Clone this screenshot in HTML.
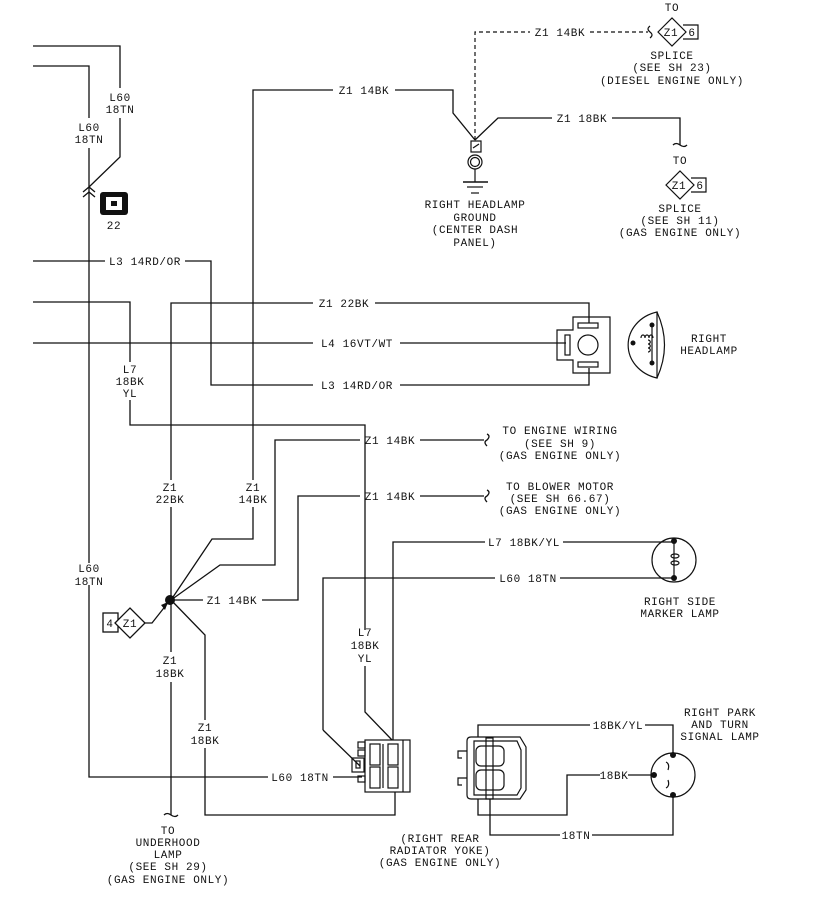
<!DOCTYPE html>
<html><head><meta charset="utf-8"><style>
html,body{margin:0;padding:0;background:#fff;}
svg{display:block;}
text{font-family:"Liberation Mono",monospace;font-size:11px;fill:#111;letter-spacing:0.6px;}
</style></head><body>
<svg width="840" height="897" viewBox="0 0 840 897" xmlns="http://www.w3.org/2000/svg">
<g stroke="#111" stroke-width="1.3" fill="none">
<!-- L60 top wires -->
<polyline points="33,46 120,46 120,88"/>
<polyline points="120,118 120,157 89,187"/>
<polyline points="33,66 89,66 89,118"/>
<polyline points="89,148 89,563"/>
<polyline points="89,585 89,777 268,777"/>
<polyline points="333,777 362,777"/>
<polyline points="83,192 89,187 95,192"/>
<polyline points="83,197 89,192 95,197"/>
<!-- L3 -->
<polyline points="33,261 105,261"/>
<polyline points="185,261 211,261 211,385 313,385"/>
<polyline points="400,385 589,385 589,368"/>
<!-- L7 from left -->
<polyline points="33,302 130,302 130,362"/>
<polyline points="130,400 130,425 365,425 365,630"/>
<polyline points="365,666 365,712 392,740"/>
<!-- Z1 22BK -->
<polyline points="313,303 171,303 171,480"/>
<polyline points="171,507 171,600"/>
<polyline points="375,303 589,303 589,323"/>
<!-- L4 -->
<polyline points="33,343 313,343"/>
<polyline points="400,343 566,343"/>
<!-- Z1 14BK top -->
<polyline points="333,90 253,90 253,480"/>
<polyline points="253,507 253,539 212,539 171,600"/>
<polyline points="395,90 453,90 453,113 475,140"/>
<!-- Z1 18BK to gas splice -->
<polyline points="475,140 498,118 552,118"/>
<polyline points="612,118 680,118 680,145"/>
<!-- engine wiring -->
<polyline points="171,600 220,565 275,565 275,440 360,440"/>
<polyline points="420,440 484,440"/>
<!-- blower -->
<polyline points="171,600 203,600"/>
<polyline points="262,600 298,600 298,496 360,496"/>
<polyline points="420,496 484,496"/>
<!-- down to underhood -->
<polyline points="171,600 171,652"/>
<polyline points="171,682 171,815"/>
<polyline points="171,600 205,635 205,720"/>
<polyline points="205,748 205,815 395,815 395,792"/>
<!-- L60 and L7 to marker -->
<polyline points="323,730 323,578 495,578"/>
<polyline points="560,578 674,578"/>
<polyline points="323,730 360,766"/>
<polyline points="393,740 393,542 485,542"/>
<polyline points="563,542 674,542"/>
<!-- park lamp wires -->
<polyline points="478,737 478,725 590,725"/>
<polyline points="645,725 673,725 673,755"/>
<polyline points="655,775 628,775"/>
<polyline points="600,775 567,775 567,815 478,815 478,799"/>
<polyline points="490,799 490,835 560,835"/>
<polyline points="592,835 673,835 673,795"/>
<!-- squiggles -->
<path d="M487,434 q4,2 0,6 q-4,2 0,6"/>
<path d="M487,490 q4,2 0,6 q-4,2 0,6"/>
<path d="M164,815 q3,-3 7,0 q4,3 7,0"/>
<path d="M673,145 q3,-3 7,0 q4,3 7,0"/>
<!-- 4 Z1 splice -->
<rect x="103" y="613" width="15" height="19"/>
<polygon points="115,623 130,608 145,623 130,638" fill="#fff"/>
<polyline points="145,623 152,623 167,604"/>
</g>
<polygon points="161,605 168,602 165,610" fill="#111"/>
<circle cx="170" cy="600" r="5" fill="#111"/>
<!-- dashed diesel -->
<g stroke="#111" stroke-width="1.2" fill="none" stroke-dasharray="4,3">
<polyline points="475,140 475,32 530,32"/>
<polyline points="590,32 648,32"/>
</g>
<g stroke="#111" stroke-width="1.2" fill="none">
<path d="M650,26 q-4,3 0,6 q4,3 0,6"/>
<polygon points="658,32 672,18 686,32 672,46"/>
<polyline points="683,25 698,25 698,39 683,39"/>
<polygon points="666,185 680,171 694,185 680,199"/>
<polyline points="691,178 706,178 706,192 691,192"/>
<!-- ground -->
<rect x="471" y="141" width="10" height="11"/>
<line x1="473" y1="148" x2="479" y2="144"/>
<circle cx="475" cy="162" r="7"/>
<circle cx="475" cy="162" r="4.5"/>
<line x1="475" y1="169" x2="475" y2="182"/>
<line x1="463" y1="182" x2="488" y2="182" stroke-width="1.5"/>
<line x1="467" y1="187" x2="483" y2="187"/>
<line x1="471" y1="193" x2="479" y2="193"/>
<!-- headlamp connector -->
<polygon points="573,317 610,317 610,373 573,373 573,360 557,360 557,330 573,330"/>
<rect x="578" y="323" width="20" height="5"/>
<rect x="578" y="362" width="20" height="5"/>
<rect x="565" y="335" width="5" height="20"/>
<circle cx="588" cy="345" r="10"/>
<!-- headlamp -->
<path d="M657,312 A38,34 0 0 0 657,378 Z"/>
<path d="M657,312 Q672,345 657,378"/>
<line x1="652" y1="325" x2="652" y2="363"/>
<path d="M641,338 c0,-4 4,-4 4,0 c0,-4 4,-4 4,0 c0,-4 4,-4 4,0"/>
<path d="M648,340 c3,0 3,4 0,4 c3,0 3,4 0,4 c3,0 3,4 0,4"/>
<!-- marker lamp -->
<circle cx="674" cy="560" r="22"/>
<line x1="674" y1="542" x2="674" y2="578"/>
<ellipse cx="675" cy="556" rx="4" ry="2"/>
<ellipse cx="675" cy="563" rx="4" ry="2"/>
<!-- park lamp -->
<circle cx="673" cy="775" r="22"/>
<path d="M666,762 q4,2 2,8"/>
<path d="M666,788 q4,-2 2,-8"/>
<!-- connector 1 -->
<rect x="365" y="740" width="45" height="52"/>
<line x1="403" y1="740" x2="403" y2="792"/>
<rect x="370" y="744" width="10" height="21"/>
<rect x="370" y="767" width="10" height="21"/>
<rect x="388" y="744" width="10" height="21"/>
<rect x="388" y="767" width="10" height="21"/>
<line x1="383" y1="744" x2="383" y2="788"/>
<rect x="358" y="742" width="7" height="6"/>
<rect x="358" y="750" width="7" height="6"/>
<rect x="352" y="758" width="12" height="14"/>
<rect x="356" y="761" width="4" height="7"/>
<rect x="358" y="776" width="7" height="6"/>
<!-- connector 2 -->
<path d="M471,737 H520 L526,747 V790 L520,799 H471 Q467,799 467,795 V741 Q467,737 471,737 Z"/>
<path d="M474,741 H517 L521,750 V788 L517,795 H474 Z"/>
<rect x="486" y="738" width="7" height="61"/>
<rect x="476" y="746" width="28" height="20" rx="5"/>
<rect x="476" y="770" width="28" height="20" rx="5"/>
<polyline points="467,751 458,751 458,758 462,758"/>
<polyline points="467,778 458,778 458,785 462,785"/>
</g>
<g fill="#111">
<circle cx="674" cy="541" r="3"/><circle cx="674" cy="578" r="3"/>
<circle cx="673" cy="755" r="3"/><circle cx="673" cy="795" r="3"/><circle cx="654" cy="775" r="3"/>
<circle cx="652" cy="325" r="2.5"/><circle cx="633" cy="343" r="2.5"/><circle cx="652" cy="363" r="2.5"/>
<rect x="100" y="192" width="28" height="23" rx="3"/>
</g>
<rect x="106" y="197" width="16" height="13" fill="#fff"/>
<rect x="111" y="201" width="6" height="5" fill="#111"/>
<g text-anchor="middle">
<text x="120" y="101">L60</text><text x="120" y="113">18TN</text>
<text x="89" y="131">L60</text><text x="89" y="143">18TN</text>
<text x="114" y="229">22</text>
<text x="145" y="265">L3 14RD/OR</text>
<text x="130" y="373">L7</text><text x="130" y="385">18BK</text><text x="130" y="397">YL</text>
<text x="364" y="94">Z1 14BK</text>
<text x="344" y="307">Z1 22BK</text>
<text x="357" y="347">L4 16VT/WT</text>
<text x="357" y="389">L3 14RD/OR</text>
<text x="390" y="444">Z1 14BK</text>
<text x="390" y="500">Z1 14BK</text>
<text x="560" y="434">TO ENGINE WIRING</text><text x="560" y="447">(SEE SH 9)</text><text x="560" y="459">(GAS ENGINE ONLY)</text>
<text x="560" y="490">TO BLOWER MOTOR</text><text x="560" y="502">(SEE SH 66.67)</text><text x="560" y="514">(GAS ENGINE ONLY)</text>
<text x="170" y="491">Z1</text><text x="170" y="503">22BK</text>
<text x="253" y="491">Z1</text><text x="253" y="503">14BK</text>
<text x="89" y="572">L60</text><text x="89" y="585">18TN</text>
<text x="232" y="604">Z1 14BK</text>
<text x="130" y="627">Z1</text><text x="110" y="627">4</text>
<text x="170" y="664">Z1</text><text x="170" y="677">18BK</text>
<text x="205" y="731">Z1</text><text x="205" y="744">18BK</text>
<text x="365" y="636">L7</text><text x="365" y="649">18BK</text><text x="365" y="662">YL</text>
<text x="300" y="781">L60 18TN</text>
<text x="168" y="834">TO</text><text x="168" y="846">UNDERHOOD</text><text x="168" y="858">LAMP</text><text x="168" y="870">(SEE SH 29)</text><text x="168" y="883">(GAS ENGINE ONLY)</text>
<text x="524" y="546">L7 18BK/YL</text>
<text x="528" y="582">L60 18TN</text>
<text x="680" y="605">RIGHT SIDE</text><text x="680" y="617">MARKER LAMP</text>
<text x="618" y="729">18BK/YL</text>
<text x="614" y="779">18BK</text>
<text x="576" y="839">18TN</text>
<text x="720" y="716">RIGHT PARK</text><text x="720" y="728">AND TURN</text><text x="720" y="740">SIGNAL LAMP</text>
<text x="440" y="842">(RIGHT REAR</text><text x="440" y="854">RADIATOR YOKE)</text><text x="440" y="866">(GAS ENGINE ONLY)</text>
<text x="560" y="36">Z1 14BK</text>
<text x="672" y="11">TO</text>
<text x="671" y="36">Z1</text><text x="692" y="36">6</text>
<text x="672" y="59">SPLICE</text><text x="672" y="71">(SEE SH 23)</text><text x="672" y="84">(DIESEL ENGINE ONLY)</text>
<text x="582" y="122">Z1 18BK</text>
<text x="680" y="164">TO</text>
<text x="679" y="189">Z1</text><text x="700" y="189">6</text>
<text x="680" y="212">SPLICE</text><text x="680" y="224">(SEE SH 11)</text><text x="680" y="236">(GAS ENGINE ONLY)</text>
<text x="475" y="208">RIGHT HEADLAMP</text><text x="475" y="221">GROUND</text><text x="475" y="233">(CENTER DASH</text><text x="475" y="246">PANEL)</text>
<text x="709" y="342">RIGHT</text><text x="709" y="354">HEADLAMP</text>
</g>
</svg>
</body></html>
